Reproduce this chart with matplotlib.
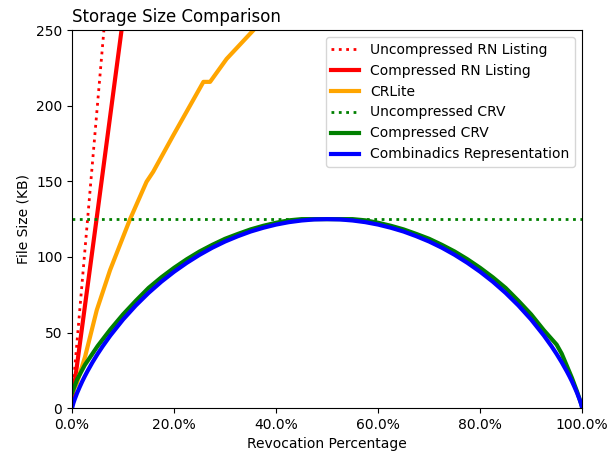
import matplotlib
matplotlib.use("Agg")
import matplotlib.pyplot as plt
from matplotlib.ticker import PercentFormatter

# Data (x = revocation fraction, y = KB)
unc_rn_x = [0.0, 0.0624]
unc_rn_y = [6.0, 250.0]

comp_rn_x = [0.0, 0.048, 0.097]
comp_rn_y = [4.0, 125.0, 250.0]

crlite_x = [0.0, 0.0092, 0.0255, 0.0484, 0.0745, 0.1137, 0.146, 0.159, 0.1987, 0.2575, 0.2706, 0.303, 0.3556]
crlite_y = [10.0, 16.3, 34.0, 64.8, 91.3, 125.0, 149.7, 156.3, 180.6, 215.8, 215.8, 231.0, 250.0]

unc_crv_x = [0.0, 1.0]
unc_crv_y = [125.0, 125.0]

comp_crv_x = [0.0, 0.01, 0.025, 0.05, 0.075, 0.1, 0.125, 0.15, 0.175, 0.2, 0.225, 0.25, 0.275, 0.3,
              0.325, 0.35, 0.375, 0.4, 0.425, 0.45, 0.5, 0.55, 0.575, 0.6, 0.625, 0.65, 0.675, 0.7,
              0.725, 0.75, 0.775, 0.8, 0.825, 0.85, 0.875, 0.9, 0.925, 0.95, 0.96, 0.97, 0.98, 0.99, 1.0]
comp_crv_y = [10.0, 19.0, 28.5, 41.0, 52.0, 62.0, 71.0, 79.5, 86.5, 92.8, 98.5, 103.6, 108.0, 112.0,
              115.2, 118.2, 120.6, 122.6, 124.2, 125.0, 125.0, 125.0, 124.2, 122.6, 120.6, 118.2, 115.2, 112.0,
              108.0, 103.6, 98.5, 92.8, 86.5, 79.5, 71.0, 62.0, 51.5, 42.0, 36.0, 28.0, 20.0, 11.0, 1.0]

comb_x = [0.0, 0.0025, 0.005, 0.01, 0.015, 0.02, 0.025, 0.03, 0.04, 0.05, 0.06, 0.075, 0.1, 0.125,
          0.15, 0.175, 0.2, 0.225, 0.25, 0.275, 0.3, 0.325, 0.35, 0.375, 0.4, 0.425, 0.45, 0.475, 0.5,
          0.525, 0.55, 0.575, 0.6, 0.625, 0.65, 0.675, 0.7, 0.725, 0.75, 0.775, 0.8, 0.825, 0.85, 0.875,
          0.9, 0.925, 0.94, 0.95, 0.96, 0.97, 0.975, 0.98, 0.985, 0.99, 0.995, 0.9975, 1.0]
comb_y = [0.0, 3.2, 5.7, 10.1, 14.0, 17.7, 21.1, 24.3, 30.3, 35.8, 40.9, 48.0, 58.6, 67.9,
          76.2, 83.6, 90.2, 96.1, 101.4, 106.1, 110.2, 113.7, 116.8, 119.3, 121.4, 123.0, 124.1, 124.8, 125.0,
          124.8, 124.1, 123.0, 121.4, 119.3, 116.8, 113.7, 110.2, 106.1, 101.4, 96.1, 90.2, 83.6, 76.2, 67.9,
          58.6, 48.0, 40.9, 35.8, 30.3, 24.3, 21.1, 17.7, 14.0, 10.1, 5.7, 3.2, 0.0]

fig = plt.figure(figsize=(6.16, 4.57), dpi=100)
ax = fig.add_axes([0.117, 0.107, 0.828, 0.827])

ax.plot(unc_rn_x, unc_rn_y, color="red", linestyle=":", linewidth=2, label="Uncompressed RN Listing")
ax.plot(comp_rn_x, comp_rn_y, color="red", linewidth=3, label="Compressed RN Listing")
ax.plot(crlite_x, crlite_y, color="orange", linewidth=3, label="CRLite")
ax.plot(unc_crv_x, unc_crv_y, color="green", linestyle=":", linewidth=2, label="Uncompressed CRV")
ax.plot(comp_crv_x, comp_crv_y, color="green", linewidth=3, label="Compressed CRV")
ax.plot(comb_x, comb_y, color="blue", linewidth=3, label="Combinadics Representation")

ax.set_xlim(0, 1)
ax.set_ylim(0, 250)
ax.xaxis.set_major_formatter(PercentFormatter(xmax=1, decimals=1))
ax.set_xticks([0, 0.2, 0.4, 0.6, 0.8, 1.0])
ax.set_yticks([0, 50, 100, 150, 200, 250])
ax.set_xlabel("Revocation Percentage")
ax.set_ylabel("File Size (KB)")
ax.set_title("Storage Size Comparison", loc="left", fontsize=12)
ax.legend(loc="upper right", fontsize=10)

fig.savefig("out.png", dpi=100)
